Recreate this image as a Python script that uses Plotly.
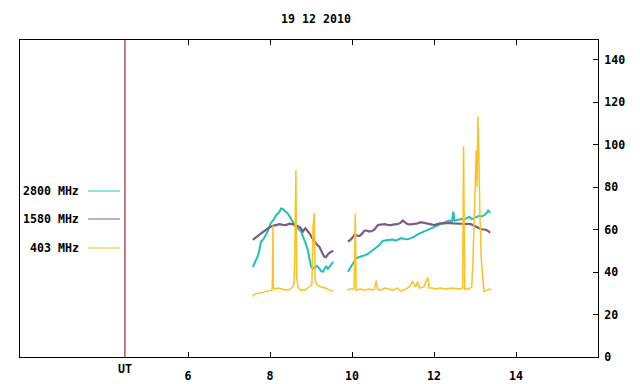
import plotly.graph_objects as go

# ---- data ----
title_text = "19 12 2010"
series_names = ["2800 MHz", "1580 MHz", "403 MHz"]
x_tick_vals = [6, 8, 10, 12, 14]
x_tick_text = ["6", "8", "10", "12", "14"]
y_tick_vals = [0, 20, 40, 60, 80, 100, 120, 140]
ut_hour = 4.46

t2800 = [7.58, 7.62, 7.66, 7.70, 7.74, 7.78, 7.84, 7.90, 7.96, 8.02, 8.08, 8.15, 8.22, 8.27, 8.31, 8.36, 8.43, 8.49, 8.55, 8.63, 8.70, 8.76, 8.80, 8.84, 8.88, 8.92, 8.96, 9.00, 9.04, 9.08, 9.14, 9.20, 9.25, 9.29, 9.33, 9.37, 9.41, 9.45, 9.50, 9.54,
         None,
         9.90, 9.94, 9.98, 10.04, 10.10, 10.16, 10.22, 10.28, 10.34, 10.40, 10.46, 10.52, 10.59, 10.63, 10.67, 10.71, 10.75, 10.83, 10.91, 10.99, 11.07, 11.14, 11.20, 11.28, 11.36, 11.44, 11.52, 11.60, 11.68, 11.76, 11.85, 11.93, 12.01, 12.09, 12.17, 12.27, 12.37, 12.44, 12.47, 12.50, 12.58, 12.66, 12.74, 12.80, 12.86, 12.92, 12.98, 13.04, 13.10, 13.16, 13.23, 13.28, 13.32, 13.37]
v2800 = [42.4, 44.0, 45.7, 47.5, 50.4, 54.4, 55.5, 57.5, 60.0, 63.2, 64.5, 66.9, 68.2, 70.0, 69.8, 68.8, 67.7, 65.8, 63.8, 61.4, 60.2, 59.1, 57.0, 55.2, 53.0, 50.4, 46.5, 42.6, 41.5, 42.3, 43.0, 41.8, 40.5, 40.2, 41.8, 42.9, 41.5, 42.6, 44.0, 44.9,
         None,
         40.2, 41.5, 42.6, 44.5, 46.5, 47.0, 47.3, 47.8, 48.1, 48.8, 49.7, 50.2, 51.2, 52.0, 52.8, 53.8, 54.7, 55.0, 55.2, 55.4, 54.8, 55.5, 56.0, 55.6, 55.5, 56.0, 56.7, 57.8, 58.6, 59.2, 59.9, 60.7, 61.1, 62.0, 62.7, 63.5, 64.3, 64.0, 68.5, 64.2, 64.6, 65.0, 64.9, 65.6, 66.1, 65.0, 65.4, 66.0, 66.5, 66.2, 66.9, 67.8, 69.0, 68.0]

t1580 = [7.58, 7.66, 7.74, 7.82, 7.90, 7.98, 8.07, 8.15, 8.23, 8.31, 8.39, 8.47, 8.55, 8.63, 8.71, 8.76, 8.80, 8.86, 8.91, 8.96, 9.02, 9.08, 9.14, 9.20, 9.26, 9.32, 9.36, 9.41, 9.48, 9.54,
         None,
         9.90, 9.98, 10.06, 10.12, 10.18, 10.24, 10.30, 10.36, 10.42, 10.48, 10.54, 10.63, 10.71, 10.79, 10.87, 10.95, 11.03, 11.11, 11.18, 11.24, 11.30, 11.36, 11.44, 11.52, 11.60, 11.68, 11.76, 11.85, 11.93, 12.01, 12.08, 12.15, 12.25, 12.35, 12.45, 12.58, 12.66, 12.74, 12.82, 12.90, 12.96, 13.02, 13.08, 13.15, 13.21, 13.27, 13.32, 13.37]
v1580 = [55.2, 56.5, 57.5, 58.8, 59.9, 61.0, 61.8, 62.3, 62.6, 62.3, 62.2, 62.8, 62.6, 62.0, 61.4, 60.5, 59.1, 60.7, 59.5, 58.3, 56.3, 54.4, 53.0, 52.0, 49.8, 47.3, 47.0, 48.4, 49.5, 50.1,
         None,
         54.4, 55.5, 57.5, 57.2, 57.0, 58.0, 59.5, 59.6, 59.1, 59.4, 59.9, 62.2, 62.4, 62.6, 62.3, 62.2, 62.5, 62.6, 63.2, 64.3, 63.3, 62.6, 62.5, 62.7, 63.0, 63.5, 63.2, 62.6, 62.3, 62.2, 62.6, 63.0, 63.0, 63.2, 63.0, 63.0, 62.8, 62.6, 62.8, 62.6, 62.0, 61.4, 60.8, 60.2, 60.1, 59.9, 59.3, 58.6]

t403 = [7.58, 7.62, 7.70, 7.80, 7.90, 8.00, 8.05, 8.06, 8.07, 8.08, 8.10, 8.20, 8.30, 8.40, 8.50, 8.58, 8.60, 8.63, 8.65, 8.68, 8.75, 8.85, 8.95, 9.02, 9.05, 9.08, 9.10, 9.15, 9.25, 9.35, 9.45, 9.54,
        None,
        9.88, 9.95, 10.05, 10.08, 10.10, 10.20, 10.30, 10.40, 10.50, 10.55, 10.59, 10.62, 10.70, 10.80, 10.90, 11.00, 11.10, 11.20, 11.30, 11.40, 11.48, 11.55, 11.60, 11.65, 11.75, 11.85, 11.88, 11.95, 12.05, 12.15, 12.30, 12.45, 12.60, 12.70, 12.72, 12.75, 12.85, 12.92, 12.95, 12.97, 13.00, 13.02, 13.03, 13.05, 13.06, 13.07, 13.09, 13.10, 13.12, 13.14, 13.15, 13.18, 13.20, 13.22, 13.30, 13.35, 13.39]
v403 = [28.5, 29.5, 30.0, 30.5, 31.0, 31.3, 31.5, 40.0, 62.0, 33.0, 32.0, 32.5, 32.0, 31.5, 32.0, 34.0, 43.0, 88.0, 38.0, 33.0, 31.5, 31.5, 33.0, 34.0, 62.0, 68.0, 36.0, 34.0, 33.0, 32.5, 31.5, 31.0,
        None,
        31.5, 32.0, 32.0, 67.5, 31.5, 32.0, 31.5, 32.0, 31.5, 32.0, 36.0, 32.0, 31.5, 32.5, 32.0, 31.5, 32.5, 31.0, 32.0, 33.0, 35.5, 33.0, 35.5, 32.5, 33.0, 37.5, 32.5, 32.5, 32.0, 32.5, 32.0, 32.5, 32.0, 32.5, 99.5, 32.0, 32.0, 33.0, 45.7, 60.0, 70.9, 85.0, 97.6, 80.3, 105.5, 113.3, 99.0, 83.5, 66.2, 55.2, 47.3, 39.5, 31.9, 30.8, 31.5, 32.0, 31.5]

colors = ["#20c0b8", "#7a5c84", "#ffc020"]
widths = [2, 2.2, 1.5]

FONT = dict(family="DejaVu Sans Mono", size=11.6, color="black", weight="bold")

# The page body has an 8px default margin: lay the figure out in window pixels.
OFF = 8
PL, PR, PT, PB = 20, 598, 40, 357   # plot area in window pixels
W, H = 640 - OFF, 384 - OFF

fig = go.Figure()
for name, t, v, c, w in zip(series_names, [t2800, t1580, t403], [v2800, v1580, v403], colors, widths):
    fig.add_trace(go.Scatter(x=t, y=v, mode="lines", name=name, line=dict(color=c, width=w),
                             connectgaps=False, showlegend=False))

# UT vertical line + label
fig.add_shape(type="line", xref="x", yref="paper", x0=ut_hour, x1=ut_hour, y0=0, y1=1,
              line=dict(color="#800000", width=1))
fig.add_annotation(text="UT", xref="x", yref="paper", x=ut_hour, y=-(369 - PB) / (PB - PT),
                   yanchor="middle", showarrow=False, font=FONT)

# gnuplot-style key: text then line sample
leg_y = [191, 219, 248]
for name, c, py in zip(series_names, colors, leg_y):
    ypap = (PB - py) / (PB - PT)
    fig.add_annotation(text=name, xref="paper", yref="paper", x=(81 - PL) / (PR - PL), y=ypap,
                       xanchor="right", yanchor="middle", showarrow=False, font=FONT)
    fig.add_shape(type="line", xref="paper", yref="paper",
                  x0=(88 - PL) / (PR - PL), x1=(120 - PL) / (PR - PL), y0=ypap, y1=ypap,
                  line=dict(color=c, width=1))

fig.update_layout(
    width=W, height=H,
    margin=dict(l=PL - OFF, r=640 - PR, t=PT - OFF, b=384 - PB, pad=0, autoexpand=False),
    paper_bgcolor="white", plot_bgcolor="white",
    font=FONT,
    title=dict(text=title_text, xref="container", yref="container",
               x=(316 - OFF) / W, y=1 - (19 - OFF) / H,
               xanchor="center", yanchor="middle", font=FONT),
)
fig.update_xaxes(range=[1.9, 16.0], tickvals=x_tick_vals, ticktext=x_tick_text,
                 ticks="inside", ticklen=5, tickcolor="black", showline=True, linecolor="black",
                 linewidth=1, mirror="ticks", showgrid=False, zeroline=False, automargin=False,
                 ticklabelstandoff=8, tickfont=FONT)
fig.update_yaxes(range=[0, 149.4], tickvals=y_tick_vals, side="right",
                 ticks="inside", ticklen=5, tickcolor="black", showline=True, linecolor="black",
                 linewidth=1, mirror=True, showgrid=False, zeroline=False, automargin=False,
                 ticklabelstandoff=3, tickfont=FONT)

fig.write_html("out.html")
